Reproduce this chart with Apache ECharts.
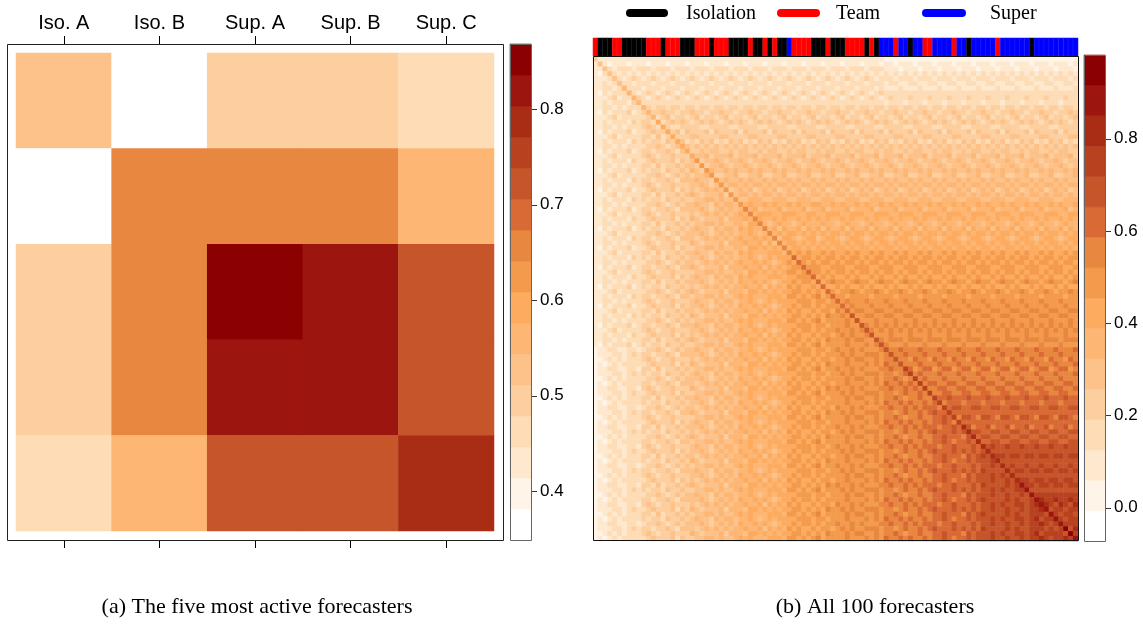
<!DOCTYPE html>
<html>
<head>
<meta charset="utf-8">
<title>Forecaster similarity</title>
<script src="https://cdn.jsdelivr.net/npm/echarts@6/dist/echarts.min.js"></script>
<style>
  html, body { margin: 0; padding: 0; background: #fff; }
  #main { width: 1143px; height: 624px; }
</style>
</head>
<body>
<div id="main"></div>
<script>
// ---- panel (a): five most active forecasters
var topNames = ['Iso. A', 'Iso. B', 'Sup. A', 'Sup. B', 'Sup. C'];
var topValues = [
  [0.53, 0.36, 0.49, 0.49, 0.46],
  [0.36, 0.66, 0.66, 0.66, 0.56],
  [0.49, 0.66, 0.85, 0.82, 0.72],
  [0.49, 0.66, 0.82, 0.82, 0.72],
  [0.46, 0.56, 0.72, 0.72, 0.79]
];
var keyRangeA = [0.349, 0.868];
var keyTicksA = [0.4, 0.5, 0.6, 0.7, 0.8];

// ---- panel (b): all 100 forecasters
var groupNames = ['Isolation', 'Team', 'Super'];
// one letter per forecaster column: I = Isolation, T = Team, S = Super
var forecasterGroups =
  'TIIITTIIII ITTTITTTII ITTTITTTII IITIITITII STTTTIIITI ' +
  'IITTTTITIS SSTSSISSTT SSSSTSSISS SSSTSSSSSS ISSSSSSSSS';
var keyRangeB = [-0.072, 0.981];
var keyTicksB = [0, 0.2, 0.4, 0.6, 0.8];
// lower triangle, row by row from the top; each hex digit = colour key band (0 = white ... f = dark red)
var allRows = [
  '4',
  '25',
  '225',
  '2135',
  '22235',
  '223235',
  '2233236',
  '21323336',
  '222342336',
  '2232333246',
  '2233232333 6',
  '2132333423 46',
  '2223423333 346',
  '2232333243 4437',
  '2233232333 45437',
  '2132333423 345447',
  '2223423333 4435347',
  '2232333243 43443547',
  '2233232333 344543457',
  '2132333423 4434454357',
  '2223423333 4543445444 7',
  '2232333243 3454445354 58',
  '2233232333 4435344545 548',
  '2132333423 4344354454 6548',
  '2223423333 3445434545 45568',
  '2232333243 4434454355 565548',
  '2233232333 4543445444 5565458',
  '2132333423 3454445354 54565658',
  '2223423333 4435344545 654555648',
  '2232333243 4344354454 4556656558',
  '2233232333 3445434545 5655465665 8',
  '2132333423 4434454355 5565456565 69',
  '2223423333 4543445444 5456565656 769',
  '2232333243 3454445354 6545556466 6769',
  '2233232333 4435344545 4556656556 65779',
  '2132333423 4344354454 5655465665 767669',
  '2223423333 3445434545 5565456565 6676569',
  '2232333243 4434454355 5456565656 76676769',
  '2233232333 4543445444 6545556466 676675759',
  '2132333423 3454445354 4556656556 6577676769',
  '2223423333 4435344545 5655465665 7676667776 9',
  '2232333243 4344354454 5565456565 6676567677 7a',
  '2233232333 3445434545 5456565656 7667676567 87a',
  '2132333423 4434454355 6545556466 6766757676 788a',
  '2223423333 4543445444 4556656556 6577676767 8878a',
  '2232333243 3454445354 5655465665 7676667776 77888a',
  '2233232333 4435344545 5565456565 7667676567 787887a',
  '2132333423 4344354454 5456565656 6766757676 8787787a',
  '2223423333 3445434545 6545556466 6577676767 78878787a',
  '2232333243 4434454355 4556656556 7676667776 887878978a',
  '2233232333 4543445444 5655465665 6676567677 7788878878 a',
  '2132333423 3454445354 5565456565 7667676567 7878878788 8a',
  '2223423333 4435344545 5456565656 6766757676 8787787887 98a',
  '2232333243 4344354454 6545556466 6577676767 7887878798 898b',
  '2233232333 3445434545 4556656556 7676667776 8878789788 8898b',
  '2132333423 4434454355 5655465665 6676567677 7788878878 88988b',
  '2223423333 4543445444 5565456565 7667676567 7878878788 988989b',
  '2232333243 3454445354 5456565656 6766757676 8787787887 8989889b',
  '2233232333 4435344545 6545556466 6577676767 7887878798 88989988b',
  '2132333423 4344354454 4556656556 7676667776 8878789788 889888989b',
  '1223322332 3445434545 5655465665 6676567677 7788878878 9889898889 b',
  '1222332343 4434454355 5565456565 7667676567 7878878788 8989889998 9b',
  '1123232333 4543445444 5456565656 6766757676 8787787887 8898998898 99b',
  '1212323333 3454445354 6545556466 6577676767 7887878798 8898889898 a99b',
  '1223322332 4435344545 4556656556 7676667776 8878789788 9889898889 9a99c',
  '1222332343 4344354454 5655465665 6676567677 7788878878 8989889998 9989ac',
  '1123232333 3445434545 5565456565 7667676567 7878878788 8898998898 99a989c',
  '1212323333 4434454355 5456565656 6766757676 8787787887 8898889898 a99a9a9c',
  '1223322332 4543445444 6545556466 6577676767 7887878798 9889898889 9a99a9a9c',
  '1222332343 3454445354 4556656556 7676667776 8878789788 8989889998 9989a99a9c',
  '1123232333 4435344545 5655465665 6676567677 7788878878 8898998898 99a9899a99 c',
  '1212323333 4344354454 5565456565 7667676567 7878878788 8898889898 a99a9a99a9 ac',
  '1223322332 3445434545 5456565656 6766757676 8787787887 9889898889 9a99a9a9aa a9c',
  '1222332343 4434454355 6545556466 6577676767 7887878798 8989889998 9989a99a9a baac',
  '1123232333 4543445444 4556656556 7676667776 8878789788 8898998898 99a9899a99 aabac',
  '1212323333 3454445354 5655465665 6676567677 7788878878 8898889898 a99a9a99a9 aaba9c',
  '1223322332 4435344545 5565456565 7667676567 7878878788 9889898889 9a99a9a9aa a9aabad',
  '1222332343 4344354454 5456565656 6766757676 8787787887 8989889998 9989a99a9a baaababd',
  '1123232333 3445434545 6545556466 6577676767 7887878798 8898998898 99a9899a99 aabaaa9bd',
  '1212323333 4434454355 4556656556 7676667776 8878789788 8898889898 a99a9a99a9 aaba9aabad',
  '1223322332 4543445444 5655465665 6676567677 7788878878 9889898889 9a99a9a9aa a9aabaaaba d',
  '1222332343 3454445354 5565456565 7667676567 7878878788 8989889998 9989a99a9a baaabababa bd',
  '1123232333 4435344545 5456565656 6766757676 8787787887 8898998898 99a9899a99 aabaaa9bab cbd',
  '1212323333 4344354454 6545556466 6577676767 7887878798 8898889898 a99a9a99a9 aaba9aabab bbcd',
  '1223322332 3445434545 4556656556 7676667776 8878789788 9889898889 9a99a9a9aa a9aabaaaba bbcbd',
  '1222332343 4434454355 5655465665 6676567677 7788878878 8989889998 9989a99a9a baaabababa cbbbbd',
  '1123232333 4543445444 5565456565 7667676567 7878878788 8898998898 99a9899a99 aabaaa9bab bbcbcbd',
  '1212323333 3454445354 5456565656 6766757676 8787787887 8898889898 a99a9a99a9 aaba9aabab bbcbbcbd',
  '1223322332 4435344545 6545556466 6577676767 7887878798 9889898889 9a99a9a9aa a9aabaaaba cbbbbcbce',
  '1222332343 4344354454 4556656556 7676667776 8878789788 8989889998 9989a99a9a baaabababa bbcbcbbcce',
  '1123232333 3445434545 5655465665 6676567677 7788878878 8898998898 99a9899a99 aabaaa9bab bbcbbcbbcb e',
  '1212323333 4434454355 5565456565 7667676567 7878878788 8898889898 a99a9a99a9 aaba9aabab cbbbbcbcbb ce',
  '1223322332 4543445444 5456565656 6766757676 8787787887 9889898889 9a99a9a9aa a9aabaaaba bbcbcbbccb cde',
  '1222332343 3454445354 6545556466 6577676767 7887878798 8989889998 9989a99a9a baaabababa bbcbbcbbcb ccde',
  '1123232333 4435344545 4556656556 7676667776 8878789788 8898998898 99a9899a99 aabaaa9bab cbbbbcbcbb cccbe',
  '1212323333 4344354454 5655465665 6676567677 7788878878 8898889898 a99a9a99a9 aaba9aabab bbcbcbbccb cdbcce',
  '1223322332 3445434545 5565456565 7667676567 7878878788 9889898889 9a99a9a9aa a9aabaaaba bbcbbcbbcb ccdcbce',
  '1222332343 4434454355 5456565656 6766757676 8787787887 8989889998 9989a99a9a baaabababa cbbbbcbcbb cccbcbcf',
  '1123232333 4543445444 6545556466 6577676767 7887878798 8898998898 99a9899a99 aabaaa9bab bbcbcbbccb cdbccccbf',
  '1212323333 3454445354 4556656556 7676667776 8878789788 8898889898 a99a9a99a9 aaba9aabab bbcbbcbbcb ccdcbccdce'
];

// ---- styling
var palette = ['#ffffff', '#fff4e8', '#fee9cf', '#fddcb6', '#fdcf9f', '#fdc28a', '#fdb673', '#fdab5f',
               '#f49a4c', '#e8873f', '#d96a35', '#c6552a', '#b8411f', '#a92c15', '#9c150e', '#8b0000'];
var groupColors = ['#000000', '#ff0000', '#0000ff'];
var sans = '"Liberation Sans", Arial, sans-serif';
var serif = '"Liberation Serif", "Times New Roman", serif';

function bandEdges(range) {
  var step = (range[1] - range[0]) / palette.length;
  return palette.map(function (c, k) { return [range[0] + k * step, range[0] + (k + 1) * step, k]; });
}
function pieces(range) {
  return bandEdges(range).map(function (e, k) {
    return k === palette.length - 1 ? { gte: e[0], color: palette[k] } : { gte: e[0], lt: e[1], color: palette[k] };
  });
}

var cellsA = [];
topValues.forEach(function (row, r) {
  row.forEach(function (v, c) { cellsA.push([c, r, v]); });
});

var bandRows = allRows.map(function (s) {
  return s.replace(/ /g, '').split('').map(function (ch) { return parseInt(ch, 16); });
});
var stepB = (keyRangeB[1] - keyRangeB[0]) / palette.length;
var idx = [];
for (var i = 0; i < 100; i++) idx.push(i);
var cellsB = [];
for (var r = 0; r < 100; r++) {
  for (var c = 0; c < 100; c++) {
    var k = c <= r ? bandRows[r][c] : bandRows[c][r];
    cellsB.push([c, r, keyRangeB[0] + (k + 0.5) * stepB]);
  }
}
var groupLetters = forecasterGroups.replace(/ /g, '');
var stripCells = groupLetters.split('').map(function (g, c) { return [c, 0, 'ITS'.indexOf(g)]; });

// colour key bands
function keyItem(params, api) {
  var p0 = api.coord([0, api.value(1)]);
  var p1 = api.coord([1, api.value(0)]);
  var col = palette[api.value(2)];
  return {
    type: 'rect',
    shape: { x: p0[0], y: p0[1], width: p1[0] - p0[0], height: p1[1] - p0[1] },
    style: { fill: col, stroke: col, lineWidth: 0.6 }
  };
}
// small tick outside the key's right edge
function keyTick(params, api) {
  var p = api.coord([1, api.value(0)]);
  var y = Math.round(p[1]) + 0.5;
  return {
    type: 'line',
    shape: { x1: p[0] + 1, y1: y, x2: p[0] + 6, y2: y },
    style: { stroke: '#333', lineWidth: 1 }
  };
}

function hiddenCat(grid, data, inverse) {
  return { type: 'category', gridIndex: grid, data: data, inverse: !!inverse, show: false };
}

// axis line kept (for ticks) but invisible
var ghostLine = { show: true, lineStyle: { color: 'rgba(0,0,0,0)', width: 0 } };

var chart = echarts.init(document.getElementById('main'));
chart.setOption({
  animation: false,
  backgroundColor: '#fff',
  grid: [
    { left: 16, top: 53, width: 478, height: 478 },     // (a) cells
    { left: 510, top: 44, width: 21, height: 496 },     // (a) key
    { left: 593, top: 38, width: 485, height: 18 },     // (b) group strip
    { left: 593, top: 57, width: 485, height: 484 },    // (b) cells
    { left: 1084, top: 55, width: 21, height: 486 }     // (b) key
  ],
  xAxis: [
    { type: 'category', gridIndex: 0, data: topNames, position: 'top', offset: 9,
      axisLine: ghostLine,
      axisTick: { show: true, length: 8, alignWithLabel: true, lineStyle: { color: '#000' } },
      axisLabel: { fontSize: 20, fontFamily: sans, color: '#000', margin: 11 } },
    { type: 'category', gridIndex: 0, data: topNames, position: 'bottom', offset: 9,
      axisLine: ghostLine,
      axisTick: { show: true, length: 8, alignWithLabel: true, lineStyle: { color: '#000' } },
      axisLabel: { show: false } },
    { type: 'value', gridIndex: 1, min: 0, max: 1, show: false },
    hiddenCat(2, idx),
    hiddenCat(3, idx),
    { type: 'value', gridIndex: 4, min: 0, max: 1, show: false }
  ],
  yAxis: [
    hiddenCat(0, topNames, true),
    { type: 'value', gridIndex: 1, min: keyRangeA[0], max: keyRangeA[1], position: 'right',
      splitLine: { show: false }, axisLine: { show: false }, axisTick: { show: false },
      axisLabel: { customValues: keyTicksA, fontSize: 17, fontFamily: sans, color: '#000', margin: 9,
                   formatter: function (v) { return v.toFixed(1); } } },
    hiddenCat(2, ['g']),
    hiddenCat(3, idx, true),
    { type: 'value', gridIndex: 4, min: keyRangeB[0], max: keyRangeB[1], position: 'right',
      splitLine: { show: false }, axisLine: { show: false }, axisTick: { show: false },
      axisLabel: { customValues: keyTicksB, fontSize: 17, fontFamily: sans, color: '#000', margin: 9,
                   formatter: function (v) { return v.toFixed(1); } } }
  ],
  visualMap: [
    { type: 'piecewise', show: false, seriesIndex: 0, dimension: 2, pieces: pieces(keyRangeA) },
    { type: 'piecewise', show: false, seriesIndex: 2, dimension: 2,
      pieces: groupColors.map(function (col, g) { return { value: g, color: col }; }) },
    { type: 'piecewise', show: false, seriesIndex: 3, dimension: 2, pieces: pieces(keyRangeB) }
  ],
  series: [
    { type: 'heatmap', xAxisIndex: 0, yAxisIndex: 0, data: cellsA, silent: true,
      progressive: 0, emphasis: { disabled: true } },
    { type: 'custom', xAxisIndex: 2, yAxisIndex: 1, data: bandEdges(keyRangeA), renderItem: keyItem,
      silent: true },
    { type: 'heatmap', xAxisIndex: 3, yAxisIndex: 2, data: stripCells, silent: true, progressive: 0,
      itemStyle: { borderWidth: 0.5, borderColor: 'rgba(255,255,255,0.15)' }, emphasis: { disabled: true } },
    { type: 'heatmap', xAxisIndex: 4, yAxisIndex: 3, data: cellsB, silent: true,
      progressive: 0, emphasis: { disabled: true } },
    { type: 'custom', xAxisIndex: 5, yAxisIndex: 4, data: bandEdges(keyRangeB), renderItem: keyItem,
      silent: true },
    { type: 'custom', xAxisIndex: 2, yAxisIndex: 1, data: keyTicksA.map(function (v) { return [v]; }),
      renderItem: keyTick, silent: true, clip: false },
    { type: 'custom', xAxisIndex: 5, yAxisIndex: 4, data: keyTicksB.map(function (v) { return [v]; }),
      renderItem: keyTick, silent: true, clip: false }
  ],
  graphic: [
    // panel frames
    { type: 'rect', z: 100, silent: true, shape: { x: 7.5, y: 44.5, width: 496, height: 496 },
      style: { fill: 'none', stroke: '#222', lineWidth: 1 } },
    { type: 'rect', z: 100, silent: true, shape: { x: 510.5, y: 44.5, width: 21, height: 496 },
      style: { fill: 'none', stroke: '#666', lineWidth: 1 } },
    { type: 'rect', z: 100, silent: true, shape: { x: 593.5, y: 56.5, width: 485, height: 484 },
      style: { fill: 'none', stroke: '#111', lineWidth: 1 } },
    { type: 'rect', z: 100, silent: true, shape: { x: 1084.5, y: 55.5, width: 21, height: 486 },
      style: { fill: 'none', stroke: '#666', lineWidth: 1 } },
    // group legend
    { type: 'line', silent: true, shape: { x1: 630, y1: 13, x2: 664, y2: 13 },
      style: { stroke: groupColors[0], lineWidth: 8, lineCap: 'round' } },
    { type: 'text', silent: true, x: 686, y: 14,
      style: { text: groupNames[0], fontSize: 20, fontFamily: serif, fill: '#000', verticalAlign: 'middle' } },
    { type: 'line', silent: true, shape: { x1: 781, y1: 13, x2: 816, y2: 13 },
      style: { stroke: groupColors[1], lineWidth: 8, lineCap: 'round' } },
    { type: 'text', silent: true, x: 836, y: 14,
      style: { text: groupNames[1], fontSize: 20, fontFamily: serif, fill: '#000', verticalAlign: 'middle' } },
    { type: 'line', silent: true, shape: { x1: 926, y1: 13, x2: 962, y2: 13 },
      style: { stroke: groupColors[2], lineWidth: 8, lineCap: 'round' } },
    { type: 'text', silent: true, x: 990, y: 14,
      style: { text: groupNames[2], fontSize: 20, fontFamily: serif, fill: '#000', verticalAlign: 'middle' } },
    // captions
    { type: 'text', silent: true, x: 257, y: 607,
      style: { text: '(a) The five most active forecasters', fontSize: 22, fontFamily: serif, fill: '#000',
               align: 'center', verticalAlign: 'middle' } },
    { type: 'text', silent: true, x: 875, y: 607,
      style: { text: '(b) All 100 forecasters', fontSize: 22, fontFamily: serif, fill: '#000',
               align: 'center', verticalAlign: 'middle' } }
  ]
});
</script>
</body>
</html>
